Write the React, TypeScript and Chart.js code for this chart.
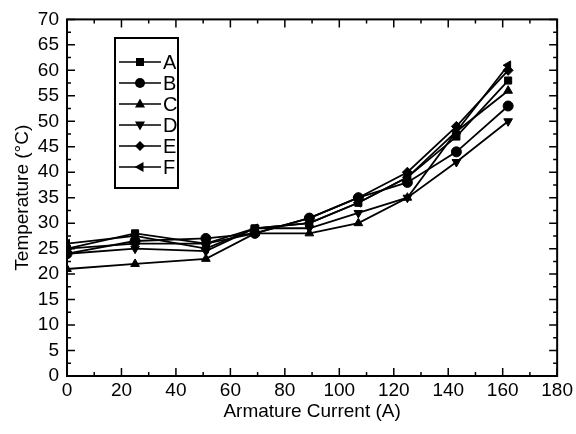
import React, { useEffect, useRef } from "react";
import { Chart, registerables } from "chart.js";

Chart.register(...registerables);

const currents = [0, 25, 51, 69, 89, 107, 125, 143, 162];
const seriesA = [25, 28, 26, 29, 30, 34, 39, 47, 58];
const seriesB = [24, 26.5, 27, 28, 31, 35, 38, 44, 53];
const seriesC = [21, 22, 23, 28, 28, 30, 35, 48, 56];
const seriesD = [24, 25, 24.5, 29, 29, 32, 35, 42, 50];
const seriesE = [25, 26, 26, 28, 31, 35, 40, 49, 60];
const seriesF = [26, 27.5, 25, 29, 30, 34, 39, 48, 61];
const labels = ["A", "B", "C", "D", "E", "F"];
const styles = ["rect", "circle", "triangle", "triangle", "rectRot", "triangle"];
const rotations = [0, 0, 0, 180, 0, -90];

const FONT = "'Liberation Sans', Arial, sans-serif";

function marker(ctx: CanvasRenderingContext2D, kind: number, x: number, y: number, r: number) {
  ctx.save();
  ctx.translate(x, y);
  ctx.beginPath();
  if (kind === 0) {
    ctx.rect(-r * 0.8, -r * 0.8, r * 1.6, r * 1.6);
  } else if (kind === 1) {
    ctx.arc(0, 0, r, 0, Math.PI * 2);
  } else if (kind === 4) {
    ctx.moveTo(0, -r);
    ctx.lineTo(r, 0);
    ctx.lineTo(0, r);
    ctx.lineTo(-r, 0);
    ctx.closePath();
  } else {
    ctx.rotate((rotations[kind] * Math.PI) / 180);
    ctx.moveTo(0, -r * 1.1);
    ctx.lineTo(r, r * 0.7);
    ctx.lineTo(-r, r * 0.7);
    ctx.closePath();
  }
  ctx.fill();
  ctx.restore();
}

const framePlugin = {
  id: "frame",
  afterDraw(chart: any) {
    const { ctx, chartArea: a, scales } = chart;
    const xs = scales.x;
    const ys = scales.y;
    ctx.save();
    ctx.strokeStyle = "#000";
    ctx.lineWidth = 2;
    ctx.strokeRect(a.left, a.top, a.right - a.left, a.bottom - a.top);
    ctx.lineWidth = 1.5;
    ctx.beginPath();
    for (let v = 0; v <= 180; v += 10) {
      const px = xs.getPixelForValue(v);
      const len = v % 20 === 0 ? 8 : 4;
      ctx.moveTo(px, a.bottom);
      ctx.lineTo(px, a.bottom - len);
      ctx.moveTo(px, a.top);
      ctx.lineTo(px, a.top + len);
    }
    for (let v = 0; v <= 70; v += 2.5) {
      const py = ys.getPixelForValue(v);
      const len = v % 5 === 0 ? 8 : 4;
      ctx.moveTo(a.left, py);
      ctx.lineTo(a.left + len, py);
      ctx.moveTo(a.right, py);
      ctx.lineTo(a.right - len, py);
    }
    ctx.stroke();

    // legend
    const bx = 115, by = 38, bw = 63, bh = 150;
    ctx.lineWidth = 2;
    ctx.strokeRect(bx, by, bw, bh);
    ctx.lineWidth = 1.5;
    ctx.font = `20px ${FONT}`;
    ctx.fillStyle = "#000";
    ctx.textBaseline = "middle";
    ctx.textAlign = "left";
    for (let i = 0; i < labels.length; i++) {
      const y = 62 + i * 21;
      ctx.beginPath();
      ctx.moveTo(119, y);
      ctx.lineTo(161, y);
      ctx.stroke();
      marker(ctx, i, 140, y, 5);
      ctx.fillText(labels[i], 163, y + 1);
    }
    ctx.restore();
  },
};

export default function App() {
  const ref = useRef<HTMLCanvasElement>(null);
  useEffect(() => {
    if (!ref.current) return;
    const all = [seriesA, seriesB, seriesC, seriesD, seriesE, seriesF];
    const chart = new Chart(ref.current, {
      type: "line",
      data: {
        datasets: all.map((s, i) => ({
          label: labels[i],
          data: s.map((v, j) => ({ x: currents[j], y: v })),
          borderColor: "#000",
          backgroundColor: "#000",
          borderWidth: 1.8,
          pointStyle: styles[i] as any,
          rotation: rotations[i],
          pointRadius: 5,
          pointBorderWidth: 1,
          tension: 0,
        })),
      },
      options: {
        animation: false,
        responsive: false,
        maintainAspectRatio: false,
        layout: { padding: { top: 18, right: 12, left: 0, bottom: 0 } },
        plugins: { legend: { display: false }, tooltip: { enabled: false } },
        scales: {
          x: {
            type: "linear",
            min: 0,
            max: 180,
            grid: { display: false, drawTicks: false },
            border: { display: false },
            ticks: {
              stepSize: 20,
              autoSkip: false,
              maxRotation: 0,
              color: "#000",
              padding: 3,
              font: { family: FONT, size: 19 },
            },
            title: {
              display: true,
              text: "Armature Current (A)",
              color: "#000",
              font: { family: FONT, size: 19 },
              padding: { top: 0, bottom: 11 },
            },
            afterFit: (s: any) => {
              s.height = 58;
            },
          },
          y: {
            type: "linear",
            min: 0,
            max: 70,
            grid: { display: false, drawTicks: false },
            border: { display: false },
            ticks: {
              stepSize: 5,
              autoSkip: false,
              color: "#000",
              padding: 8,
              font: { family: FONT, size: 19 },
            },
            title: {
              display: true,
              text: "Temperature (°C)",
              color: "#000",
              font: { family: FONT, size: 19 },
              padding: { top: 11, bottom: 0 },
            },
            afterFit: (s: any) => {
              s.width = 67;
            },
          },
        },
      },
      plugins: [framePlugin],
    });
    return () => chart.destroy();
  }, []);
  return (
    <div style={{ position: "fixed", left: 0, top: 0, width: 576, height: 434, background: "#fff" }}>
      <canvas ref={ref} width={576} height={434} style={{ width: 576, height: 434 }} />
    </div>
  );
}
